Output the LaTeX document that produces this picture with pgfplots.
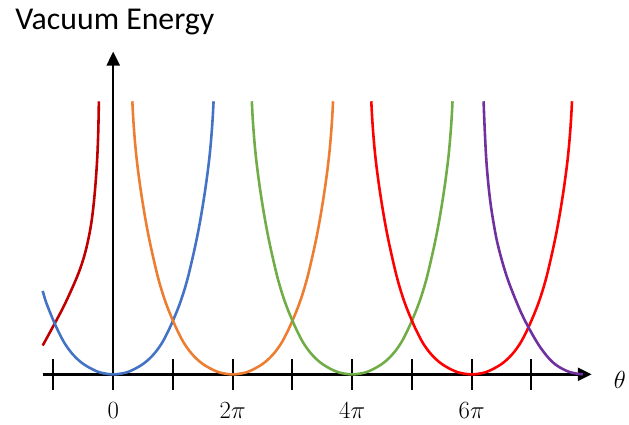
\documentclass[border=0pt]{standalone}
\usepackage{fontspec}
\setmainfont{Carlito}
\usepackage{pgfplots}
\pgfplotsset{compat=1.18}
\usetikzlibrary{arrows.meta}
\definecolor{cdred}{HTML}{C00000}
\definecolor{cblue}{HTML}{4472C4}
\definecolor{corange}{HTML}{ED7D31}
\definecolor{cgreen}{HTML}{70AD47}
\definecolor{cred}{HTML}{FF0000}
\definecolor{cpurple}{HTML}{7030A0}
\tikzset{crv/.style={line width=2.6pt, smooth, tension=0.6}}
\begin{document}
\begin{tikzpicture}
\begin{axis}[
  x=60.17pt, y=1pt,
  xmin=-1.18, xmax=8.01, ymin=0, ymax=325,
  axis lines=middle,
  axis line style={line width=2.6pt, -{Triangle[length=14pt,width=13pt]}},
  xtick={-1,0,...,7},
  xticklabels={,$0$,,$2\pi$,,$4\pi$,,$6\pi$,},
  ytick=\empty,
  hide obscured x ticks=false,
  major tick length=31pt, tick align=center,
  tick style={line width=2pt, black},
  xticklabel style={font=\fontsize{26}{30}\selectfont, anchor=north, yshift=-9pt},
  clip=false,
  xlabel={$\theta$},
  xlabel style={at={(axis description cs:1.0510,-0.0185)}, anchor=center, font=\fontsize{42}{46}\selectfont},
  ylabel={Vacuum Energy},
  ylabel style={at={(axis description cs:-0.056,1.0677)}, anchor=base west, rotate=0, font=\fontsize{32}{36}\selectfont},
]
\addplot[cdred, crv] coordinates {(-1.18,29) (-0.99,50) (-0.84,67) (-0.70,85) (-0.58,102) (-0.49,118) (-0.42,135) (-0.36,155) (-0.31,182) (-0.27,215) (-0.25,245) (-0.24,275)};
\addplot[cblue, crv] coordinates {(-1.18,84) (-1.12,72) (-1.00,54) (-0.90,41) (-0.80,30) (-0.66,19) (-0.49,10) (-0.27,2.9) (-0.10,0.4) (0,0) (0.10,0.4) (0.27,2.9) (0.49,10) (0.66,19) (0.80,30) (0.90,41) (1.00,54) (1.12,72) (1.23,93) (1.32,115) (1.40,137) (1.46,156) (1.51,174) (1.55,190) (1.59,208) (1.62,224) (1.645,241) (1.665,258) (1.68,275)};
\addplot[corange, crv] coordinates {(0.32,275) (0.335,258) (0.355,241) (0.38,224) (0.41,208) (0.45,190) (0.49,174) (0.54,156) (0.60,137) (0.68,115) (0.77,93) (0.88,72) (1.00,54) (1.10,41) (1.20,30) (1.34,19) (1.51,10) (1.73,2.9) (1.90,0.4) (2,0) (2.10,0.4) (2.27,2.9) (2.49,10) (2.66,19) (2.80,30) (2.90,41) (3.00,54) (3.12,72) (3.23,93) (3.32,115) (3.40,137) (3.46,156) (3.51,174) (3.55,190) (3.59,208) (3.62,224) (3.645,241) (3.665,258) (3.68,275)};
\addplot[cgreen, crv] coordinates {(2.32,275) (2.335,258) (2.355,241) (2.38,224) (2.41,208) (2.45,190) (2.49,174) (2.54,156) (2.60,137) (2.68,115) (2.77,93) (2.88,72) (3.00,54) (3.10,41) (3.20,30) (3.34,19) (3.51,10) (3.73,2.9) (3.90,0.4) (4,0) (4.10,0.4) (4.27,2.9) (4.49,10) (4.66,19) (4.80,30) (4.90,41) (5.00,54) (5.12,72) (5.23,93) (5.32,115) (5.40,137) (5.46,156) (5.51,174) (5.55,190) (5.59,208) (5.62,224) (5.645,241) (5.665,258) (5.68,275)};
\addplot[cred, crv] coordinates {(4.32,275) (4.335,258) (4.355,241) (4.38,224) (4.41,208) (4.45,190) (4.49,174) (4.54,156) (4.60,137) (4.68,115) (4.77,93) (4.88,72) (5.00,54) (5.10,41) (5.20,30) (5.34,19) (5.51,10) (5.73,2.9) (5.90,0.4) (6,0) (6.10,0.4) (6.27,2.9) (6.49,10) (6.66,19) (6.80,30) (6.90,41) (7.00,54) (7.12,72) (7.23,93) (7.32,115) (7.40,137) (7.46,156) (7.51,174) (7.55,190) (7.59,208) (7.62,224) (7.645,241) (7.665,258) (7.68,275)};
\addplot[cpurple, crv] coordinates {(6.20,275) (6.22,245) (6.25,212) (6.30,180) (6.36,155) (6.44,130) (6.58,100) (6.75,73) (6.91,52) (7.14,28) (7.36,12) (7.58,3.7) (7.75,0.8) (7.86,0)};
\coordinate (bbl) at (axis cs:-1.895,-51);
\coordinate (btr) at (axis cs:8.559,377);
\end{axis}
\useasboundingbox (bbl) rectangle (btr);
\end{tikzpicture}
\end{document}
